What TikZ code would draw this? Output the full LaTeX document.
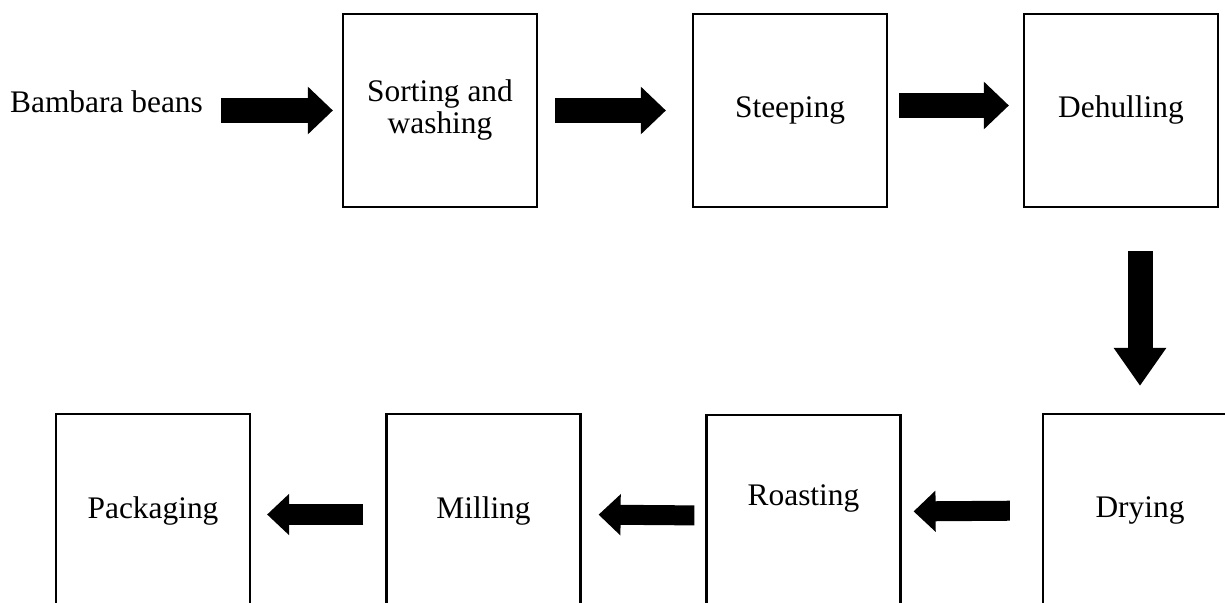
\documentclass[tikz,border=0pt]{standalone}
\usepackage{fontspec}
\setmainfont{Liberation Serif}
\usetikzlibrary{arrows.meta}
\tikzset{
	box/.style={draw, line width=1.1pt, minimum width=97pt, minimum height=96.5pt, align=center, inner sep=0pt},
	fatarrow/.style={line width=12.5pt, -{Triangle[length=12.5pt,width=23pt]}},
	slimarrow/.style={line width=10pt, -{Triangle[length=11pt,width=20pt]}},
	droparrow/.style={line width=12.5pt, -{Triangle[length=19pt,width=25pt]}}
}
\begin{document}
\begin{tikzpicture}[x=0.5pt, y=-0.5pt, font=\fontsize{15.7}{16}\selectfont, line join=miter]
	\useasboundingbox (0,0) rectangle (1225,603);
	\clip (0,0) rectangle (1225,603);
	% top row
	\node[anchor=base, inner sep=0pt] (beans) at (106.5,113) {Bambara beans};
	\node[box] (sort) at (440,110.5) {Sorting and\\washing};
	\node[box] (steep) at (790,110.5) {Steeping};
	\node[box] (dehull) at (1121,110.5) {Dehulling};
	% bottom row
	\node[box] (dry) at (1140,510.5) {Drying};
	\node[box] (roast) at (803.5,511.5) {Roasting\\\mbox{}};
	\node[box] (mill) at (483.5,510.5) {Milling};
	\node[box] (pack) at (153,510.5) {Packaging};
	% arrows
	\draw[fatarrow, shorten <=9pt, shorten >=4.5pt] (beans.east |- sort.west) -- (sort.west);
	\draw[fatarrow, shorten <=8.5pt, shorten >=13pt] (sort.east) -- (steep.west);
	\draw[fatarrow, shorten <=5.5pt, shorten >=7pt] ([yshift=2.5pt]steep.east) -- ([yshift=2.5pt]dehull.west);
	\draw[droparrow, shorten <=21.5pt, shorten >=13.5pt] (dry.north |- dehull.south) -- (dry.north);
	\draw[slimarrow, shorten <=16pt, shorten >=6pt] (dry.west) -- (roast.east);
	\draw[slimarrow, shorten <=5.5pt, shorten >=8.5pt] ([yshift=-2pt]roast.west) -- ([yshift=-2pt]mill.east);
	\draw[slimarrow, shorten <=11pt, shorten >=8pt] ([yshift=-2pt]mill.west) -- ([yshift=-2pt]pack.east);
\end{tikzpicture}
\end{document}
